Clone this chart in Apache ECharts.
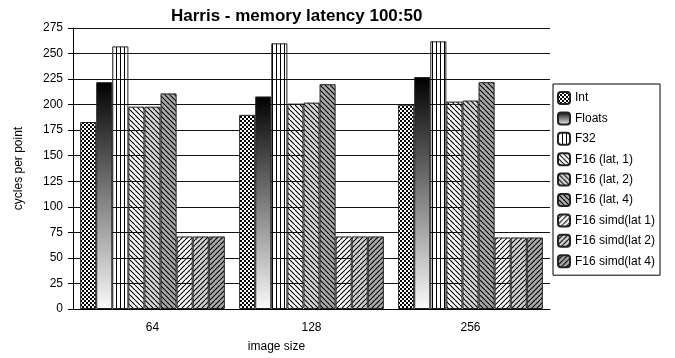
<!DOCTYPE html>
<html>
<head>
<meta charset="utf-8">
<script src="https://cdn.jsdelivr.net/npm/echarts@6/dist/echarts.min.js"></script>
<style>
  html, body { margin: 0; padding: 0; background: #fff; }
  #chart { width: 675px; height: 358px; }
</style>
</head>
<body>
<div id="chart"></div>
<script>
// image sizes on the x axis
const categories = ['64', '128', '256']
const seriesNames = [
  'Int', 'Floats', 'F32',
  'F16 (lat, 1)', 'F16 (lat, 2)', 'F16 (lat, 4)',
  'F16 simd(lat 1)', 'F16 simd(lat 2)', 'F16 simd(lat 4)'
]
// cycles per point
const intData = [183, 190, 200]
const floatsData = [222, 208, 227]
const f32Data = [257, 260, 262]
const f16Lat1 = [198, 201, 203]
const f16Lat2 = [198, 202, 204]
const f16Lat4 = [211, 220, 222]
const simdLat1 = [71, 71, 70]
const simdLat2 = [71, 71, 70]
const simdLat4 = [71, 71, 70]

// small canvas tiles for the hatch fills
function tile(w, h, bg, draw) {
  const c = document.createElement('canvas')
  c.width = w
  c.height = h
  const ctx = c.getContext('2d')
  if (bg) {
    ctx.fillStyle = bg
    ctx.fillRect(0, 0, w, h)
  }
  ctx.strokeStyle = '#000'
  ctx.fillStyle = '#000'
  ctx.lineWidth = 1.1
  draw(ctx, w, h)
  return { image: c, repeat: 'repeat' }
}

function back(bg) {
  // "\" lines
  return tile(5, 5, bg, (ctx, s) => {
    ctx.beginPath()
    for (let k = -s; k <= s; k += s) {
      ctx.moveTo(k, 0)
      ctx.lineTo(k + s, s)
    }
    ctx.stroke()
  })
}

function fwd(bg) {
  // "/" lines
  return tile(5, 5, bg, (ctx, s) => {
    ctx.beginPath()
    for (let k = -s; k <= s; k += s) {
      ctx.moveTo(k + s, 0)
      ctx.lineTo(k, s)
    }
    ctx.stroke()
  })
}

const checker = tile(4, 4, '#fff', (ctx) => {
  ctx.fillRect(0, 0, 2, 2)
  ctx.fillRect(2, 2, 2, 2)
})

const vlines = tile(4, 4, null, (ctx) => {
  ctx.fillRect(0, 0, 1, 4)
})

const gradient = new echarts.graphic.LinearGradient(0, 0, 0, 1, [
  { offset: 0, color: '#000' },
  { offset: 1, color: '#fafafa' },
])

const fills = [
  checker, gradient, vlines,
  back(null), back('#d6d6d6'), back('#a9a9a9'),
  fwd(null), fwd('#d2d2d2'), fwd('#a9a9a9')
]
const values = [
  intData, floatsData, f32Data,
  f16Lat1, f16Lat2, f16Lat4,
  simdLat1, simdLat2, simdLat4
]

const font = 'Liberation Sans'

let chart = echarts.init(document.getElementById('chart'))

let option = {
  animation: false,
  title: {
    text: 'Harris - memory latency 100:50',
    left: 166,
    top: 3,
    textStyle: { fontFamily: font, fontSize: 17, fontWeight: 'bold', color: '#000' },
  },
  grid: { left: 73, right: 125, top: 28, bottom: 49 },
  legend: {
    orient: 'vertical',
    left: 553,
    top: 84,
    itemWidth: 12,
    itemHeight: 12,
    itemGap: 6.4,
    padding: [7, 5, 7, 4],
    borderColor: '#000',
    borderWidth: 1,
    data: seriesNames,
    textStyle: { fontFamily: font, fontSize: 12, color: '#000' },
  },
  xAxis: {
    type: 'category',
    data: categories,
    name: 'image size',
    nameLocation: 'middle',
    nameGap: 32,
    nameTextStyle: { fontFamily: font, fontSize: 12, color: '#000', padding: [0, 70, 0, 0] },
    axisLine: { lineStyle: { color: '#000' } },
    axisTick: { length: 7, lineStyle: { color: '#000' } },
    axisLabel: { fontFamily: font, fontSize: 12, color: '#000', margin: 13 },
  },
  yAxis: {
    type: 'value',
    min: 0,
    max: 275,
    interval: 25,
    name: 'cycles per point',
    nameLocation: 'middle',
    nameGap: 48,
    nameTextStyle: { fontFamily: font, fontSize: 12, color: '#000' },
    axisLine: { show: true, lineStyle: { color: '#000' } },
    axisTick: { show: true, length: 5, lineStyle: { color: '#000' } },
    axisLabel: { fontFamily: font, fontSize: 12, color: '#000', margin: 10 },
    splitLine: { lineStyle: { color: '#111' } },
  },
  series: seriesNames.map((name, i) => ({
    name: name,
    type: 'bar',
    data: values[i],
    barGap: '0%',
    barCategoryGap: '9%',
    itemStyle: {
      color: fills[i],
      borderColor: '#222',
      borderWidth: 1,
    },
  })),
}

chart.setOption(option)
</script>
</body>
</html>
